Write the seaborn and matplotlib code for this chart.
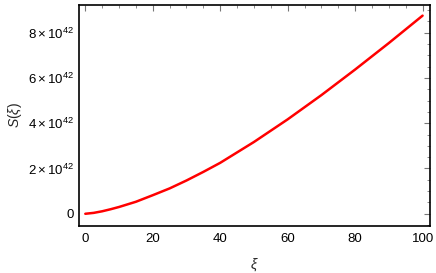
import numpy as np
import pandas as pd
import seaborn as sns
import matplotlib
matplotlib.use("Agg")
import matplotlib.pyplot as plt
from matplotlib.ticker import MultipleLocator, FuncFormatter

# values (S in units of 1e42)
xi = [0, 2.5, 5, 7.5, 10, 15, 20, 25, 30, 35, 40, 50, 60, 70, 80, 90, 100]
s_1e42 = [0.0, 0.04, 0.11, 0.20, 0.30, 0.53, 0.82, 1.12, 1.47, 1.85, 2.25, 3.17,
          4.17, 5.24, 6.37, 7.54, 8.75]
y_ticks = [0, 2, 4, 6, 8]

df = pd.DataFrame({"xi": xi, "S": np.array(s_1e42) * 1e42})

sns.set_style("white")
plt.rcParams["font.family"] = ["Liberation Sans", "DejaVu Sans"]
plt.rcParams["mathtext.fontset"] = "custom"
plt.rcParams["mathtext.rm"] = "Liberation Sans"
plt.rcParams["mathtext.it"] = "Liberation Sans:italic"

fig = plt.figure(figsize=(4.36, 2.73), dpi=100)
ax = fig.add_axes([79 / 436, 1 - 226 / 273, (430 - 79) / 436, (226 - 5) / 273])

sns.lineplot(data=df, x="xi", y="S", color="#ff0000", linewidth=1.8, ax=ax)

ax.set_xlim(-1.87, 102.2)
ax.set_ylim(-0.54e42, 9.22e42)

ax.xaxis.set_major_locator(MultipleLocator(20))
ax.xaxis.set_minor_locator(MultipleLocator(5))
ax.set_yticks([t * 1e42 for t in y_ticks])
ax.yaxis.set_minor_locator(MultipleLocator(0.5e42))


def fmt(v, pos):
    n = int(round(v / 1e42))
    if n == 0:
        return "0"
    return r"$%d\times10^{42}$" % n


ax.yaxis.set_major_formatter(FuncFormatter(fmt))

ax.tick_params(which="both", direction="in", top=True, right=True, colors="#777777",
               labelcolor="black", labelsize=9.5)
ax.tick_params(which="major", length=4, width=0.8)
ax.tick_params(which="minor", length=2, width=0.6)
ax.tick_params(axis="x", pad=5)

for sp in ax.spines.values():
    sp.set_visible(True)
    sp.set_color("black")
    sp.set_linewidth(1.2)

ax.set_xlabel(r"$\xi$", fontsize=10, labelpad=8)
ax.set_ylabel(r"$S(\xi)$", fontsize=10, labelpad=3)

fig.savefig("out.png", dpi=100)
